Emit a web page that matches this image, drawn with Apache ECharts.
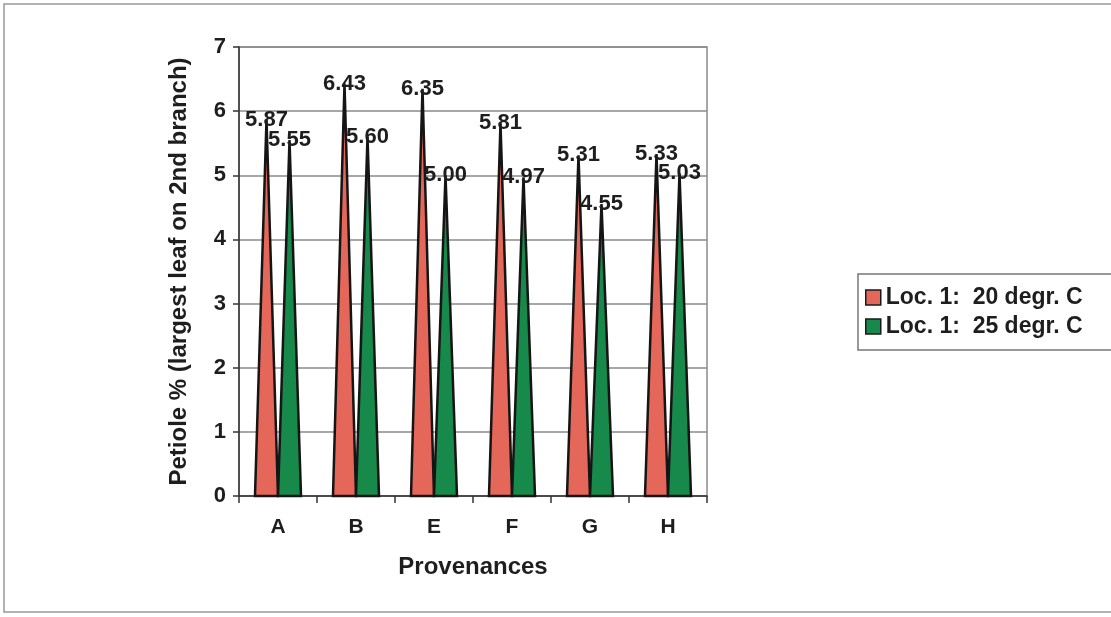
<!DOCTYPE html>
<html><head><meta charset="utf-8">
<script src="https://cdn.jsdelivr.net/npm/echarts@6/dist/echarts.min.js"></script>
<style>html,body{margin:0;padding:0;background:#fff}#c{width:1111px;height:617px}</style>
</head><body><div id="c"></div>
<script>
var categories = ['A','B','E','F','G','H'];
var seriesNames = ['Loc. 1:  20 degr. C','Loc. 1:  25 degr. C'];
var loc20 = [5.87, 6.43, 6.35, 5.81, 5.31, 5.33];
var loc25 = [5.55, 5.60, 5.00, 4.97, 4.55, 5.03];
var yTicks = [0,1,2,3,4,5,6,7];

var font = 'Liberation Sans, Arial, sans-serif';
var txt = '#1e1e1e';
var colors = ['#e5675a', '#17894b'];
var chart = echarts.init(document.getElementById('c'), null, {renderer:'canvas'});

function renderTri(params, api){
  var ci = api.value(0), v = api.value(1);
  var base = api.coord([ci, 0]);
  var top = api.coord([ci, v]);
  var band = api.size([1, 0])[0];
  var w = band * 0.295;
  var x0 = base[0] + (params.seriesIndex === 0 ? -w : 0);
  return {
    type:'group',
    children:[
      {type:'polygon', shape:{points:[[x0, base[1]], [x0 + w/2, top[1]], [x0 + w, base[1]]]},
       style:{fill:colors[params.seriesIndex], stroke:'#151515', lineWidth:2.5, lineJoin:'miter'}, z2:1},
      {type:'text', x:x0 + w/2, y:top[1], z2:100,
       style:{text:v.toFixed(2), fill:txt, font:'bold 22px ' + font, align:'center', verticalAlign:'middle'}}
    ]
  };
}
function ser(idx, values){
  return {
    type:'custom', name:seriesNames[idx],
    data: values.map(function(v, i){ return [i, v]; }),
    encode:{x:0, y:1},
    itemStyle:{color:colors[idx]},
    renderItem: renderTri, z:3
  };
}
chart.setOption({
  animation:false,
  backgroundColor:'#fff',
  graphic:[{type:'rect', shape:{x:4,y:4,width:1130,height:608}, style:{fill:'none', stroke:'#999', lineWidth:1.5}, z:-1}],
  grid:{left:239, top:47, width:468, height:449, show:true, borderColor:'#8a8a8a', borderWidth:1.5, backgroundColor:'transparent'},
  legend:{
    data:[{name:seriesNames[0], icon:'rect', itemStyle:{color:colors[0], borderColor:'#1a1a1a', borderWidth:1.5}},
          {name:seriesNames[1], icon:'rect', itemStyle:{color:colors[1], borderColor:'#1a1a1a', borderWidth:1.5}}],
    orient:'vertical', left:858, top:274, padding:[12,40,12,7], itemGap:6,
    itemWidth:15, itemHeight:15,
    borderColor:'#777', borderWidth:1.5,
    textStyle:{color:txt, fontFamily:font, fontWeight:'bold', fontSize:23, padding:[0,0,0,0]}
  },
  xAxis:{type:'category', data:categories,
    axisLine:{lineStyle:{color:'#333', width:1.5}},
    axisTick:{show:true, alignWithLabel:false, length:7, lineStyle:{color:'#333', width:1.5}},
    axisLabel:{color:txt, fontFamily:font, fontWeight:'bold', fontSize:21, margin:21},
    name:'Provenances', nameLocation:'middle', nameGap:59,
    nameTextStyle:{color:txt, fontFamily:font, fontWeight:'bold', fontSize:24}
  },
  yAxis:{type:'value', min:yTicks[0], max:yTicks[yTicks.length-1], interval:1,
    axisLine:{show:true, lineStyle:{color:'#333', width:1.5}},
    axisTick:{show:true, length:6, lineStyle:{color:'#333', width:1.5}},
    axisLabel:{color:txt, fontFamily:font, fontWeight:'bold', fontSize:22, margin:13},
    splitLine:{lineStyle:{color:'#8a8a8a', width:1.5}},
    name:'Petiole % (largest leaf on 2nd branch)', nameLocation:'middle', nameGap:48, nameRotate:90,
    nameTextStyle:{color:txt, fontFamily:font, fontWeight:'bold', fontSize:24}
  },
  series:[ser(0, loc20), ser(1, loc25)]
});
</script></body></html>
